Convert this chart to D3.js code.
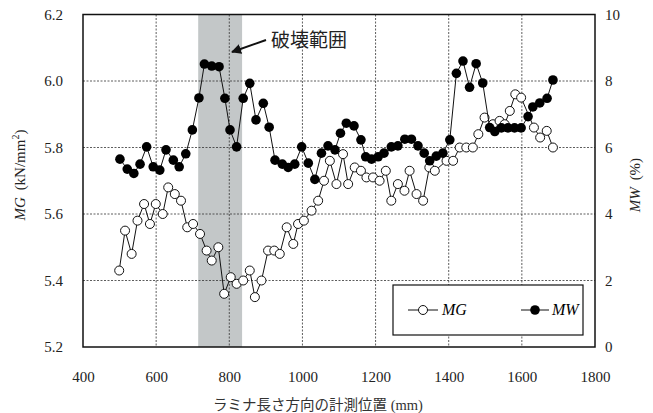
<!DOCTYPE html>
<html>
<head>
<meta charset="utf-8">
<script src="https://cdn.jsdelivr.net/npm/d3@7"></script>
<style>
  body { margin: 0; background: #fff; }
  svg { display: block; }
  .tick text { font-family: "Liberation Serif", serif; font-size: 15px; fill: #222; }
</style>
</head>
<body>
<div id="chart"></div>
<script>
const mgPos = [499,515,533,549,567,583,599,618,633,651,668,685,701,720,738,752,770,786,804,820,
  838,856,870,888,906,923,938,957,975,988,1004,1025,1043,1059,1075,1093,1111,1125,1143,1160,
  1175,1193,1211,1228,1243,1261,1279,1293,1312,1330,1347,1362,1394,1412,1430,1448,1466,1481,1498,1521,
  1539,1553,1567,1582,1598,1633,1650,1668,1685];
const mgVal = [5.43,5.55,5.48,5.58,5.63,5.57,5.63,5.60,5.68,5.66,5.64,5.56,5.57,5.54,5.49,5.46,5.50,5.36,5.41,5.39,
  5.40,5.43,5.35,5.40,5.49,5.49,5.48,5.56,5.51,5.57,5.58,5.61,5.64,5.70,5.76,5.69,5.78,5.69,5.74,5.73,
  5.71,5.71,5.70,5.73,5.64,5.69,5.67,5.73,5.66,5.64,5.74,5.73,5.76,5.76,5.80,5.80,5.80,5.84,5.89,5.87,
  5.88,5.87,5.91,5.96,5.95,5.86,5.83,5.85,5.80];

const mwPos = [501,521,539,556,574,592,610,627,647,663,681,699,717,732,752,772,788,802,820,838,
  856,873,893,909,925,945,961,979,998,1016,1034,1052,1070,1089,1104,1120,1141,1160,1173,1189,
  1207,1223,1243,1261,1280,1298,1316,1333,1348,1366,1384,1403,1421,1439,1457,1475,1493,1512,1526,1544,
  1562,1580,1598,1617,1630,1649,1669,1685];
const mwVal = [5.65,5.35,5.22,5.50,6.02,5.42,5.32,5.93,5.62,5.42,5.81,6.53,7.49,8.51,8.45,8.43,7.48,6.53,6.02,7.48,
  7.93,6.83,7.33,6.61,5.62,5.50,5.40,5.50,6.02,5.53,5.04,5.83,6.05,5.93,6.43,6.73,6.65,6.23,5.72,5.65,
  5.72,5.83,6.02,6.05,6.25,6.25,6.05,5.83,5.60,5.74,5.83,6.23,8.23,8.60,7.81,8.52,7.94,6.60,6.48,6.59,
  6.59,6.59,6.59,6.93,7.22,7.34,7.48,8.03];

const xTicks = [400,600,800,1000,1200,1400,1600,1800];
const mgTicks = [5.2,5.4,5.6,5.8,6.0,6.2];
const mwTicks = [0,2,4,6,8,10];
const damageRange = [715, 835];
const damageLabel = "破壊範囲";

const width = 653, height = 413;
const plotL = 83, plotR = 595, plotT = 14.5, plotB = 347;

const svg = d3.select("#chart").append("svg")
  .attr("width", width)
  .attr("height", height);

const x = d3.scaleLinear().domain([400, 1800]).range([plotL, plotR]);
const yMG = d3.scaleLinear().domain([5.2, 6.2]).range([plotB, plotT]);
const yMW = d3.scaleLinear().domain([0, 10]).range([plotB, plotT]);

// damage zone
svg.append("rect")
  .attr("x", x(damageRange[0]))
  .attr("y", plotT)
  .attr("width", x(damageRange[1]) - x(damageRange[0]))
  .attr("height", plotB - plotT)
  .attr("fill", "#c3c7c8");

// grid
const grid = svg.append("g")
  .attr("stroke", "#333")
  .attr("stroke-width", 0.8)
  .attr("stroke-dasharray", "2,1.5");
grid.selectAll(".vg")
  .data(xTicks.slice(1, -1))
  .enter().append("line")
  .attr("x1", d => x(d)).attr("x2", d => x(d))
  .attr("y1", plotT).attr("y2", plotB);
grid.selectAll(".hg")
  .data(mgTicks.slice(1, -1))
  .enter().append("line")
  .attr("x1", plotL).attr("x2", plotR)
  .attr("y1", d => yMG(d)).attr("y2", d => yMG(d));

// axes (labels only, frame drawn separately)
svg.append("g")
  .attr("transform", `translate(0,${plotB})`)
  .call(d3.axisBottom(x).tickValues(xTicks).tickSize(0).tickPadding(24).tickFormat(d3.format("d")))
  .call(g => g.select(".domain").remove());

svg.append("g")
  .attr("transform", `translate(${plotL},0)`)
  .call(d3.axisLeft(yMG).tickValues(mgTicks).tickSize(0).tickPadding(20).tickFormat(d3.format(".1f")))
  .call(g => g.select(".domain").remove());

svg.append("g")
  .attr("transform", `translate(${plotR},0)`)
  .call(d3.axisRight(yMW).tickValues(mwTicks).tickSize(0).tickPadding(10).tickFormat(d3.format("d")))
  .call(g => g.select(".domain").remove());

// frame
svg.append("rect")
  .attr("x", plotL).attr("y", plotT)
  .attr("width", plotR - plotL).attr("height", plotB - plotT)
  .attr("fill", "none")
  .attr("stroke", "#111")
  .attr("stroke-width", 1.5);

// series
const mgData = mgPos.map((p, i) => [p, mgVal[i]]);
const mwData = mwPos.map((p, i) => [p, mwVal[i]]);

svg.append("path")
  .datum(mgData)
  .attr("fill", "none")
  .attr("stroke", "#111")
  .attr("stroke-width", 1)
  .attr("d", d3.line().x(d => x(d[0])).y(d => yMG(d[1])));

svg.selectAll(".mg")
  .data(mgData)
  .enter().append("circle")
  .attr("class", "mg")
  .attr("cx", d => x(d[0]))
  .attr("cy", d => yMG(d[1]))
  .attr("r", 4.5)
  .attr("fill", "#fff")
  .attr("stroke", "#111")
  .attr("stroke-width", 1);

svg.append("path")
  .datum(mwData)
  .attr("fill", "none")
  .attr("stroke", "#111")
  .attr("stroke-width", 1)
  .attr("d", d3.line().x(d => x(d[0])).y(d => yMW(d[1])));

svg.selectAll(".mw")
  .data(mwData)
  .enter().append("circle")
  .attr("class", "mw")
  .attr("cx", d => x(d[0]))
  .attr("cy", d => yMW(d[1]))
  .attr("r", 4.8)
  .attr("fill", "#000");

// annotation arrow + label
svg.append("defs").append("marker")
  .attr("id", "arrow")
  .attr("viewBox", "0 0 10 10")
  .attr("refX", 9).attr("refY", 5)
  .attr("markerWidth", 5).attr("markerHeight", 5)
  .attr("orient", "auto")
  .append("path")
  .attr("d", "M0,0L10,5L0,10z")
  .attr("fill", "#111");

svg.append("line")
  .attr("x1", 266).attr("y1", 40)
  .attr("x2", 232).attr("y2", 52)
  .attr("stroke", "#111")
  .attr("stroke-width", 2)
  .attr("marker-end", "url(#arrow)");

svg.append("text")
  .attr("x", 271).attr("y", 47)
  .attr("font-family", "Noto Sans CJK JP")
  .attr("font-size", 19)
  .attr("fill", "#222")
  .text(damageLabel);

// legend
const lg = svg.append("g");
lg.append("rect")
  .attr("x", 393).attr("y", 285)
  .attr("width", 190).attr("height", 50)
  .attr("fill", "#fff")
  .attr("stroke", "#111")
  .attr("stroke-width", 1.2);

lg.append("line").attr("x1", 408).attr("x2", 438).attr("y1", 310).attr("y2", 310)
  .attr("stroke", "#111");
lg.append("circle").attr("cx", 423).attr("cy", 310).attr("r", 4.5)
  .attr("fill", "#fff").attr("stroke", "#111");
lg.append("text").attr("x", 442).attr("y", 315)
  .attr("font-family", "Liberation Serif").attr("font-style", "italic").attr("font-size", 16)
  .text("MG");

lg.append("line").attr("x1", 521).attr("x2", 549).attr("y1", 310).attr("y2", 310)
  .attr("stroke", "#111");
lg.append("circle").attr("cx", 535).attr("cy", 310).attr("r", 4.8)
  .attr("fill", "#000");
lg.append("text").attr("x", 552).attr("y", 315)
  .attr("font-family", "Liberation Serif").attr("font-style", "italic").attr("font-size", 16)
  .text("MW");

// axis titles
const yt = svg.append("text")
  .attr("transform", "translate(25,175) rotate(-90)")
  .attr("text-anchor", "middle")
  .attr("font-family", "Liberation Serif")
  .attr("font-size", 15)
  .attr("fill", "#222");
yt.append("tspan").attr("font-style", "italic").text("MG");
yt.append("tspan").text("\u2009 (kN/mm");
yt.append("tspan").attr("font-size", 10).attr("dy", -6).text("2");
yt.append("tspan").attr("dy", 6).text(")");

const yr = svg.append("text")
  .attr("transform", "translate(640,185) rotate(-90)")
  .attr("text-anchor", "middle")
  .attr("font-family", "Liberation Serif")
  .attr("font-size", 15)
  .attr("fill", "#222");
yr.append("tspan").attr("font-style", "italic").text("MW");
yr.append("tspan").text("\u2009 (%)");

const xt = svg.append("text")
  .attr("x", 318).attr("y", 410)
  .attr("text-anchor", "middle")
  .attr("fill", "#333");
xt.append("tspan").attr("font-family", "Noto Sans CJK JP").attr("font-size", 14.5).text("ラミナ長さ方向の計測位置");
xt.append("tspan").attr("font-family", "Liberation Serif").attr("font-size", 14.5).text(" (mm)");
</script>
</body>
</html>
